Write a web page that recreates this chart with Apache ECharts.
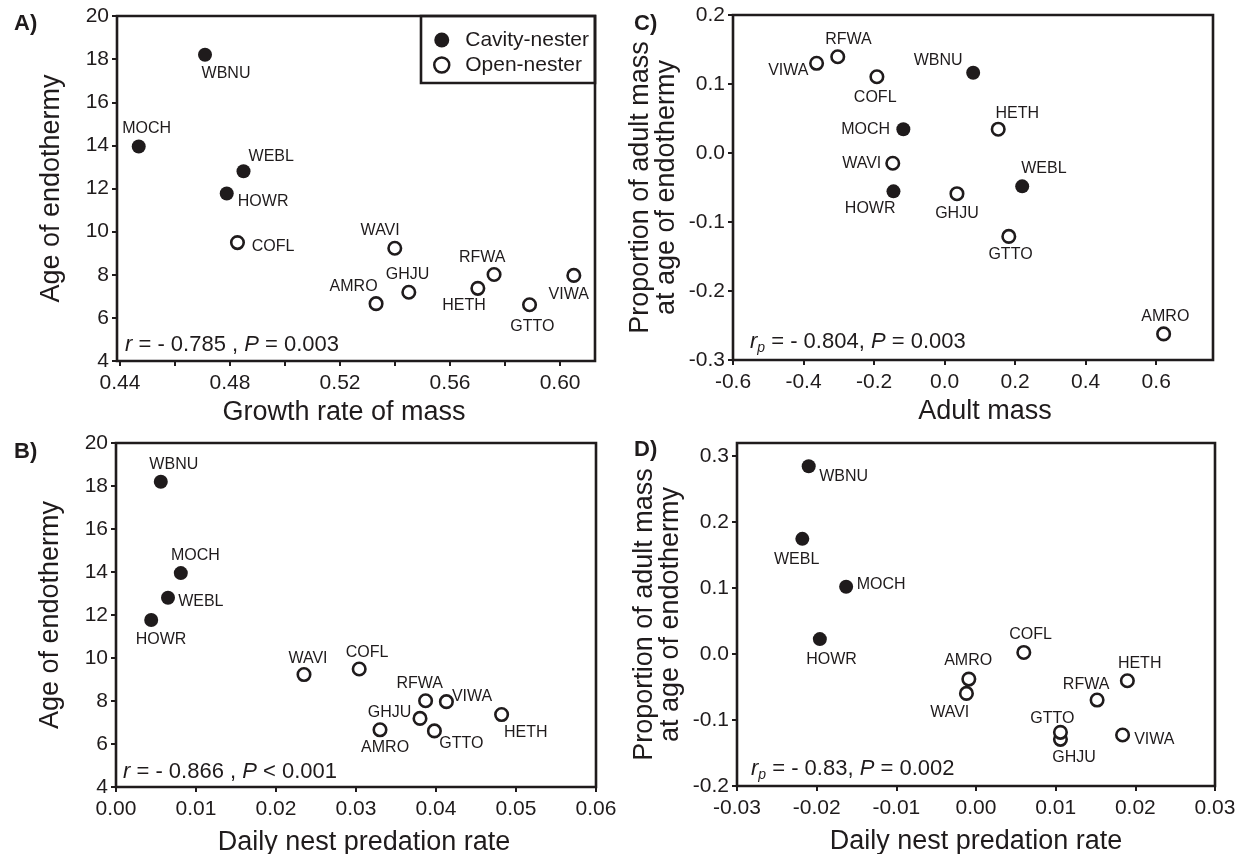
<!DOCTYPE html>
<html><head><meta charset="utf-8">
<script src="https://cdn.jsdelivr.net/npm/echarts@6/dist/echarts.min.js"></script>
<style>html,body{margin:0;padding:0;background:#fff}#c{width:1247px;height:854px}</style>
</head><body><div id="c"></div>
<script>
// ---------- DATA ----------
const species = ['WBNU','MOCH','WEBL','HOWR','COFL','WAVI','AMRO','GHJU','HETH','RFWA','GTTO','VIWA'];
const cavityNesters = ['WBNU','MOCH','WEBL','HOWR'];
const ageEndothermy = [18.2, 13.95, 12.8, 11.77, 9.49, 9.23, 6.66, 7.19, 7.37, 8.01, 6.61, 7.97];
const growthRate = [0.4709, 0.4468, 0.4849, 0.4788, 0.4827, 0.5399, 0.5331, 0.5450, 0.5701, 0.5760, 0.5889, 0.6050];
const nestPredation = [0.0056, 0.0081, 0.0065, 0.0044, 0.0304, 0.0235, 0.0330, 0.0380, 0.0482, 0.0387, 0.0398, 0.0413];
const adultMass = [0.081, -0.117, 0.220, -0.145, -0.192, -0.147, 0.621, 0.035, 0.152, -0.303, 0.182, -0.363];
const propMassC = [0.1163, 0.0345, -0.0483, -0.0556, 0.1105, -0.0149, -0.2622, -0.059, 0.0345, 0.1395, -0.1209, 0.130];
const nestPredResid = [-0.0210, -0.0163, -0.0218, -0.0196, 0.0060, -0.0012, -0.0009, 0.0106, 0.0190, 0.0152, 0.0106, 0.0184];
const propMassD = [0.2848, 0.102, 0.1747, 0.0227, 0.0025, -0.0596, -0.0379, -0.1293, -0.0404, -0.0697, -0.1187, -0.1227];

const ticksAx = [0.44,0.46,0.48,0.50,0.52,0.54,0.56,0.58,0.60];
const labelsAx = [0.44,0.48,0.52,0.56,0.60];
const ticksCx = [-0.6,-0.4,-0.2,0.0,0.2,0.4,0.6];
const ticksDy = [-0.2,-0.1,0.0,0.1,0.2,0.3];
const legendNames = ['Cavity-nester','Open-nester'];
const statsText = ['r = - 0.785 , P = 0.003','r = - 0.866 , P < 0.001','rp = - 0.804, P = 0.003','rp = - 0.83, P = 0.002'];

// ---------- STYLE / LAYOUT ----------
const FONT = "'Liberation Sans', Arial, Helvetica, sans-serif";
const INK = '#1f1b1c';
// label offsets (px) of species names relative to their point, per panel
const labelOffsets = [
 {WBNU:[21,19],MOCH:[8,-17.7],WEBL:[27.7,-14.3],HOWR:[36.4,8.3],COFL:[35.6,3.7],WAVI:[-14.6,-17.7],AMRO:[-22.5,-17.3],GHJU:[-1.2,-18],HETH:[-13.8,17.7],RFWA:[-11.9,-17],GTTO:[2.8,22.3],VIWA:[-5.1,19]},
 {WBNU:[13,-17.3],MOCH:[14.6,-17],WEBL:[32.8,3.3],HOWR:[9.9,19.7],WAVI:[4,-16.3],COFL:[7.9,-16.3],RFWA:[-5.9,-16.7],VIWA:[25.7,-5.3],GHJU:[-30.4,-6.3],GTTO:[26.9,12.7],AMRO:[5.1,17.7],HETH:[24.1,18.3]},
 {VIWA:[-28.3,7.7],RFWA:[10.7,-17.3],COFL:[-1.7,21],WBNU:[-35,-11.7],MOCH:[-37.7,0],HETH:[19,-15.7],WAVI:[-31,0.3],HOWR:[-23.3,17.3],GHJU:[0,20],WEBL:[21.7,-17.7],GTTO:[1.7,18.3],AMRO:[1.7,-17.3]},
 {WBNU:[35,10.7],WEBL:[-5.7,20.7],MOCH:[35,-2.7],HOWR:[11.7,20.3],COFL:[6.7,-18.3],AMRO:[-0.7,-18],WAVI:[-16.7,19.3],HETH:[12.3,-17.3],RFWA:[-11,-15.7],GTTO:[-8,-14],GHJU:[13.7,18],VIWA:[31.7,4.3]}
];
const grids = [
 {left:117, top:16, width:478, height:345},
 {left:116, top:443, width:480, height:344},
 {left:733, top:15, width:480, height:345},
 {left:737, top:443, width:478, height:343}
];
const panelXY = [
 [growthRate, ageEndothermy],
 [nestPredation, ageEndothermy],
 [adultMass, propMassC],
 [nestPredResid, propMassD]
];

const tickStyle = {show:true, length:5, lineStyle:{color:INK, width:2}};
function baseAxis(gi){
  return {gridIndex:gi, type:'value', axisLine:{show:false, onZero:false},
    axisTick:Object.assign({}, tickStyle), splitLine:{show:false},
    axisLabel:{color:INK, fontSize:21, fontFamily:FONT, margin:12, showMinLabel:true, showMaxLabel:true},
    nameLocation:'middle', nameTextStyle:{color:INK, fontSize:27, fontFamily:FONT}};
}
const xAxes = [0,1,2,3].map(baseAxis);
const yAxes = [0,1,2,3].map(baseAxis);

// A
Object.assign(xAxes[0], {min:0.4389, max:0.6127, name:'Growth rate of mass', nameGap:38});
xAxes[0].axisTick.customValues = ticksAx;
xAxes[0].axisLabel.customValues = labelsAx;
xAxes[0].axisLabel.formatter = v => v.toFixed(2);
xAxes[0].nameTextStyle.padding = [0,24,0,0];
Object.assign(yAxes[0], {min:4, max:20, interval:2, name:'Age of endothermy', nameGap:52});
yAxes[0].axisLabel.margin = 8;
// B
Object.assign(xAxes[1], {min:0, max:0.06, interval:0.01, name:'Daily nest predation rate', nameGap:42});
xAxes[1].axisLabel.formatter = v => v.toFixed(2);
xAxes[1].nameTextStyle.padding = [0,0,0,16];
Object.assign(yAxes[1], {min:4, max:20, interval:2, name:'Age of endothermy', nameGap:52});
yAxes[1].axisLabel.margin = 8;
// C
Object.assign(xAxes[2], {min:-0.6, max:0.761, name:'Adult mass', nameGap:38});
xAxes[2].axisTick.customValues = ticksCx;
xAxes[2].axisLabel.customValues = ticksCx;
xAxes[2].axisLabel.formatter = v => v.toFixed(1);
xAxes[2].nameTextStyle.padding = [0,0,0,24];
Object.assign(yAxes[2], {min:-0.3, max:0.2, interval:0.1, name:'Proportion of adult mass\nat age of endothermy', nameGap:53});
yAxes[2].axisLabel.formatter = v => v.toFixed(1);
yAxes[2].axisLabel.margin = 8;
yAxes[2].nameTextStyle.lineHeight = 26;
// D
Object.assign(xAxes[3], {min:-0.03, max:0.03, interval:0.01, name:'Daily nest predation rate', nameGap:42});
xAxes[3].axisLabel.formatter = v => v.toFixed(2);
Object.assign(yAxes[3], {min:-0.2, max:0.32, name:'Proportion of adult mass\nat age of endothermy', nameGap:53});
yAxes[3].axisTick.customValues = ticksDy;
yAxes[3].axisLabel.customValues = ticksDy;
yAxes[3].axisLabel.formatter = v => v.toFixed(1);
yAxes[3].axisLabel.margin = 8;
yAxes[3].nameTextStyle.lineHeight = 26;

const labelBase = {show:true, position:'inside', formatter:'{b}', color:INK, fontSize:16, fontFamily:FONT, opacity:1};
const series = [];
panelXY.forEach(([xs, ys], pi) => {
  const mk = (filterFn) => species.map((sp, i) => ({sp, i})).filter(o => filterFn(o.sp)).map(({sp, i}) => ({
    name: sp, value: [xs[i], ys[i]], label: {offset: labelOffsets[pi][sp]}
  }));
  series.push({type:'scatter', name:legendNames[0], xAxisIndex:pi, yAxisIndex:pi, symbol:'circle', symbolSize:14,
    itemStyle:{color:INK, opacity:1}, label:labelBase, emphasis:{disabled:true}, data: mk(sp => cavityNesters.includes(sp))});
  series.push({type:'scatter', name:legendNames[1], xAxisIndex:pi, yAxisIndex:pi, symbol:'circle', symbolSize:12.5,
    itemStyle:{color:'#fff', borderColor:INK, borderWidth:2.6, opacity:1}, label:labelBase, emphasis:{disabled:true},
    data: mk(sp => !cavityNesters.includes(sp))});
});

const rich = {
  i:{fontStyle:'italic', fontWeight:'normal', fontSize:22, fontFamily:FONT, color:INK, lineHeight:26},
  n:{fontWeight:'normal', fontSize:22, fontFamily:FONT, color:INK, lineHeight:26},
  s:{fontStyle:'italic', fontWeight:'normal', fontSize:14, fontFamily:FONT, color:INK, lineHeight:26, verticalAlign:'bottom'}
};
function statRich(t){
  // italic r / P, subscript p
  let m = t.match(/^(rp|r)(.*?)(P)(.*)$/);
  let out = m[1] === 'rp' ? '{i|r}{s|p}' : '{i|r}';
  out += '{n|' + m[2] + '}{i|P}{n|' + m[4] + '}';
  return out;
}
const statPos = [[125,332],[123,759],[750,329],[751,756]];
const panelLabels = ['A)','B)','C)','D)'];
const panelPos = [[14,11],[14,439],[634,11],[634,437]];
const titles = [];
panelLabels.forEach((t, i) => titles.push({text:t, left:panelPos[i][0], top:panelPos[i][1], padding:0,
  textStyle:{fontSize:22, fontWeight:'bold', fontFamily:FONT, color:INK, lineHeight:26}}));
statsText.forEach((t, i) => titles.push({text:statRich(t), left:statPos[i][0], top:statPos[i][1], padding:0,
  textStyle:{rich, fontSize:22, fontWeight:'normal', lineHeight:26}}));

const chart = echarts.init(document.getElementById('c'), null, {renderer:'canvas'});
chart.setOption({
  backgroundColor:'#fff',
  animation:false,
  title: titles,
  grid: grids.map(g => Object.assign({show:true, borderColor:INK, borderWidth:2.6, backgroundColor:'transparent',
    containLabel:false, outerBoundsMode:'none'}, g)),
  xAxis: xAxes,
  yAxis: yAxes,
  legend: {left:433, top:27.5, orient:'vertical', padding:0, itemWidth:15, itemHeight:15, itemGap:0, selectedMode:false,
    textStyle:{fontSize:21, fontFamily:FONT, color:INK, lineHeight:25, padding:[0,0,0,11]},
    data:[{name:legendNames[0], icon:'circle'}, {name:legendNames[1], icon:'circle', itemStyle:{borderWidth:2.5}}]},
  graphic: [{type:'rect', shape:{x:421, y:16, width:174, height:67}, style:{fill:'none', stroke:INK, lineWidth:2.6}, z:10}],
  series
});
</script></body></html>
